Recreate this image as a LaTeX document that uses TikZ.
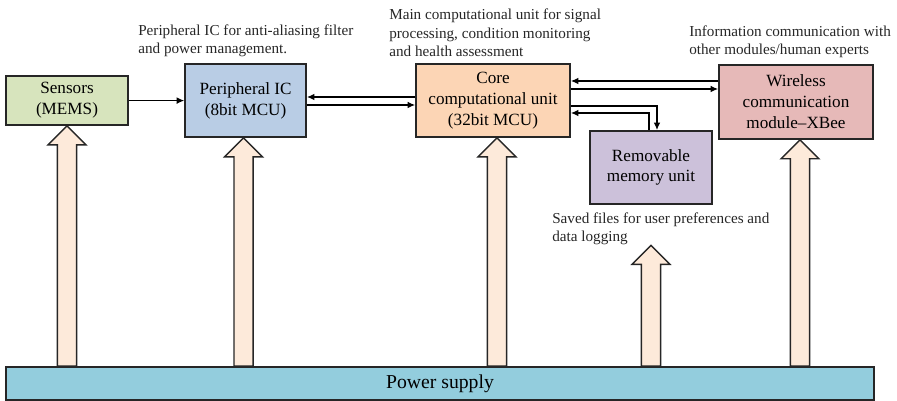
\documentclass[tikz,border=0pt]{standalone}
\usepackage{fontspec}
\setmainfont{Liberation Serif}
\usetikzlibrary{calc, arrows.meta}
\definecolor{sensgreen}{HTML}{D7E4BD}
\definecolor{perblue}{HTML}{B9CDE5}
\definecolor{coreorange}{HTML}{FCD5B5}
\definecolor{wirepink}{HTML}{E6B9B8}
\definecolor{memlilac}{HTML}{CCC1DA}
\definecolor{powercyan}{HTML}{93CDDD}
\definecolor{feedpeach}{HTML}{FDEADA}
\tikzset{
  block/.style={rectangle, draw=black!85, line width=1.1pt,
    align=center, font=\fontsize{12.2}{14.9}\selectfont},
  note/.style={font=\fontsize{10.8}{13}\selectfont, align=left,
    inner sep=0pt, anchor=west, text=black!85},
  flow/.style={-{Latex[length=1.9mm, width=1.7mm]}, line width=1.2pt},
  feed/.style={fill=feedpeach, draw=black!85, line width=1pt}
}
% block arrow from the power rail up to a tip point
\newcommand{\supply}[1]{%
  \filldraw[feed] let \p1=(#1), \p2=(power.north) in
    (\x1-2.4mm,\y2) -- (\x1-2.4mm,\y1-4.75mm) -- (\x1-4.75mm,\y1-4.75mm)
    -- (\p1) -- (\x1+4.75mm,\y1-4.75mm) -- (\x1+2.4mm,\y1-4.75mm)
    -- (\x1+2.4mm,\y2) -- cycle;}

\begin{document}
\begin{tikzpicture}
\useasboundingbox (0,0) rectangle (22.425,10.025);

%% -- Blocks ------------------------------------------------
\node[block, fill=sensgreen, minimum width=3.05cm, minimum height=1.225cm]
  (sensors) at (1.675, 7.51) {Sensors\\(MEMS)};
\node[block, fill=perblue, minimum width=3.025cm, minimum height=1.825cm]
  (periph) at (6.14, 7.51) {Peripheral IC\\(8bit MCU)};
\node[block, fill=coreorange, minimum width=3.85cm, minimum height=1.825cm]
  (core) at (12.325, 7.51) {Core\\computational unit\\(32bit MCU)};
\node[block, fill=wirepink, minimum width=3.85cm, minimum height=1.85cm]
  (wireless) at (19.9, 7.475) {Wireless\\communication\\module--XBee};
\node[block, fill=memlilac, minimum width=3.05cm, minimum height=1.825cm]
  (memory) at (16.275, 5.84) {Removable\\memory unit};
\node[block, fill=powercyan, minimum width=21.7cm, minimum height=0.825cm,
  font=\fontsize{14}{17}\selectfont]
  (power) at (11, 0.44) {Power supply};

%% -- Notes -------------------------------------------------
\node[note] (periphnote) at (3.45, 9.0)
  {Peripheral IC for anti-aliasing filter\\and power management.};
\node[note] (corenote) at (9.725, 9.2)
  {Main computational unit for signal\\processing, condition monitoring\\and health assessment};
\node[note] (wirenote) at (17.225, 8.975)
  {Information communication with\\other modules/human experts};
\node[note] (memnote) at (13.8, 4.3)
  {Saved files for user preferences and\\data logging};

%% -- Data links --------------------------------------------
\draw[flow] (sensors.east) -- (periph.west |- sensors.east);
\draw[flow] (core.west |- 0,7.6) -- (periph.east |- 0,7.6);
\draw[flow] (periph.east |- 0,7.4) -- (core.west |- 0,7.4);
\draw[flow] (wireless.west |- 0,8.0) -- (core.east |- 0,8.0);
\draw[flow] (core.east |- 0,7.8) -- (wireless.west |- 0,7.8);
\draw[flow] (core.east |- 0,7.375) -| ([xshift=1.5mm]memory.north);
\draw[flow] ([xshift=-0.5mm]memory.north) |- (core.east |- 0,7.2);

%% -- Power feeds -------------------------------------------
\supply{sensors.south}
\supply{[xshift=-0.5mm]periph.south}
\supply{[xshift=1mm]core.south}
\supply{[xshift=1mm]wireless.south}
\supply{memory.south |- memnote.south}

\end{tikzpicture}
\end{document}
